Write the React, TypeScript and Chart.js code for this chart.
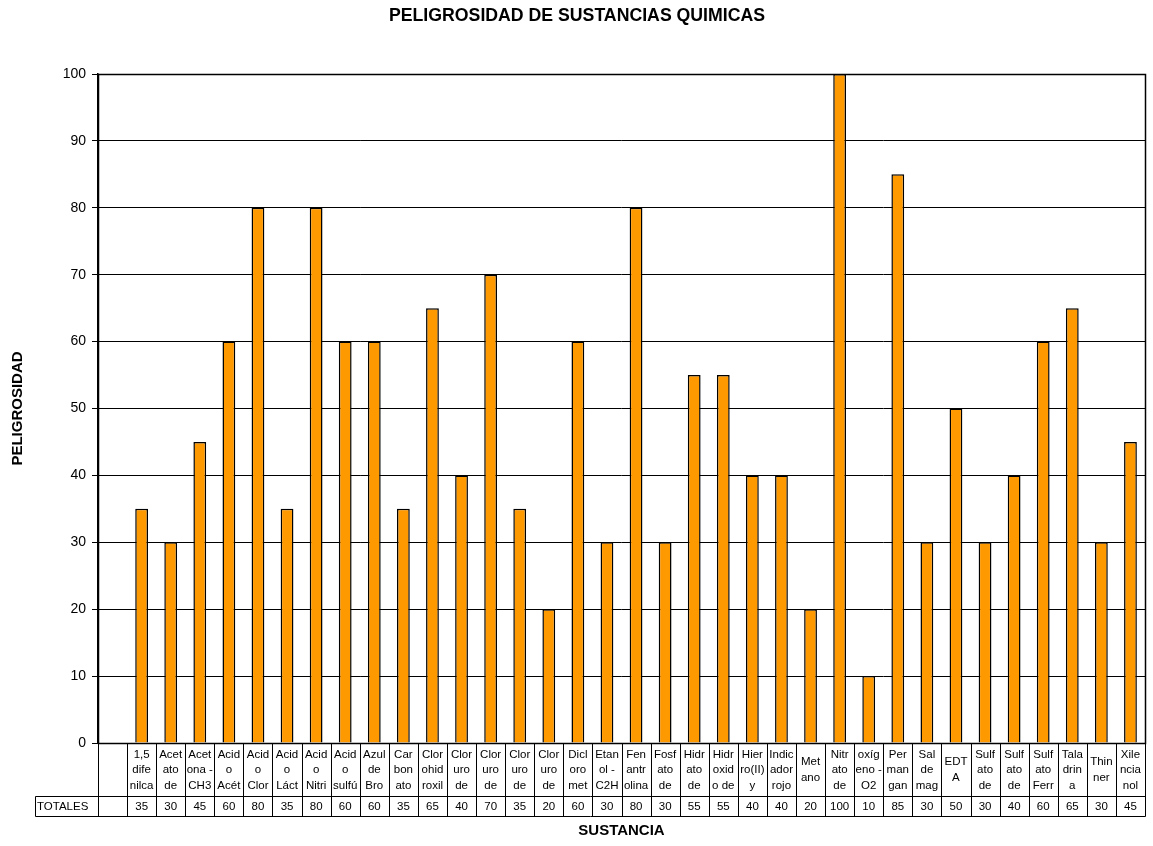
import React, { useEffect, useRef } from "react";
import { Chart, registerables } from "chart.js";

Chart.register(...registerables);

const TITLE = "PELIGROSIDAD DE SUSTANCIAS QUIMICAS";
const Y_TITLE = "PELIGROSIDAD";
const X_TITLE = "SUSTANCIA";
const ROW_HEADER = "TOTALES";

// category labels as shown (wrapped / truncated) in the data table
const categories: string[] = [
  "",
  "1,5\ndife\nnilca",
  "Acet\nato\nde",
  "Acet\nona -\nCH3",
  "Acid\no\nAcét",
  "Acid\no\nClor",
  "Acid\no\nLáct",
  "Acid\no\nNitri",
  "Acid\no\nsulfú",
  "Azul\nde\nBro",
  "Car\nbon\nato",
  "Clor\nohid\nroxil",
  "Clor\nuro\nde",
  "Clor\nuro\nde",
  "Clor\nuro\nde",
  "Clor\nuro\nde",
  "Dicl\noro\nmet",
  "Etan\nol -\nC2H",
  "Fen\nantr\nolina",
  "Fosf\nato\nde",
  "Hidr\nato\nde",
  "Hidr\noxid\no de",
  "Hier\nro(II)\ny",
  "Indic\nador\nrojo",
  "Met\nano",
  "Nitr\nato\nde",
  "oxíg\neno -\nO2",
  "Per\nman\ngan",
  "Sal\nde\nmag",
  "EDT\nA",
  "Sulf\nato\nde",
  "Sulf\nato\nde",
  "Sulf\nato\nFerr",
  "Tala\ndrin\na",
  "Thin\nner",
  "Xile\nncia\nnol",
];

const values: (number | null)[] = [
  null, 35, 30, 45, 60, 80, 35, 80, 60, 60, 35, 65, 40, 70, 35, 20, 60, 30, 80,
  30, 55, 55, 40, 40, 20, 100, 10, 85, 30, 50, 30, 40, 60, 65, 30, 45,
];

const Y_MIN = 0;
const Y_MAX = 100;
const Y_STEP = 10;

const FONT = "'Liberation Sans', Arial, sans-serif";

const crisp = (v: number) => Math.round(v) + 0.5;

const decorPlugin = {
  id: "decor",
  afterDraw(chart: any) {
    const { ctx, chartArea, scales } = chart;
    const x = scales.x;
    const n = categories.length;
    const step = x.getPixelForValue(1) - x.getPixelForValue(0);
    const left = chartArea.left;
    const right = chartArea.right;
    const top = chartArea.bottom;
    const mid = top + 53;
    const bottom = mid + 20;
    const headerLeft = 35;

    ctx.save();
    // plot frame
    ctx.strokeStyle = "#000";
    ctx.lineWidth = 1.5;
    ctx.strokeRect(crisp(left), crisp(chartArea.top), Math.round(right - left), Math.round(chartArea.bottom - chartArea.top));

    // data table grid
    ctx.lineWidth = 1;
    const line = (x1: number, y1: number, x2: number, y2: number) => {
      ctx.beginPath();
      ctx.moveTo(x1, y1);
      ctx.lineTo(x2, y2);
      ctx.stroke();
    };
    line(crisp(headerLeft), crisp(mid), crisp(right), crisp(mid));
    line(crisp(headerLeft), crisp(bottom), crisp(right), crisp(bottom));
    line(crisp(headerLeft), crisp(mid), crisp(headerLeft), crisp(bottom));
    for (let i = 0; i < n; i++) {
      const bx = x.getPixelForValue(i) - step / 2;
      line(crisp(bx), crisp(top), crisp(bx), crisp(bottom));
    }
    line(crisp(right), crisp(top), crisp(right), crisp(bottom));

    // table text
    ctx.fillStyle = "#000";
    ctx.font = `11.5px ${FONT}`;
    ctx.textAlign = "center";
    ctx.textBaseline = "middle";
    const lh = 15.5;
    const rowMid = (top + mid) / 2;
    for (let i = 0; i < n; i++) {
      const cx = x.getPixelForValue(i);
      const lines = categories[i] ? categories[i].split("\n") : [];
      lines.forEach((t, k) => {
        ctx.fillText(t, cx, rowMid + (k - (lines.length - 1) / 2) * lh + 0.5);
      });
      const v = values[i];
      if (v !== null && v !== undefined) {
        ctx.fillText(String(v), cx, (mid + bottom) / 2 + 0.5);
      }
    }
    ctx.textAlign = "left";
    ctx.fillText(ROW_HEADER, headerLeft + 2, (mid + bottom) / 2 + 0.5);

    // titles
    ctx.font = `bold 17.7px ${FONT}`;
    ctx.textAlign = "center";
    ctx.fillText(TITLE, 577, 16);

    ctx.font = `bold 15px ${FONT}`;
    ctx.fillText(X_TITLE, (left + right) / 2, 831);

    ctx.save();
    ctx.translate(18, (chartArea.top + chartArea.bottom) / 2);
    ctx.rotate(-Math.PI / 2);
    ctx.fillText(Y_TITLE, 0, 0);
    ctx.restore();

    ctx.restore();
  },
};

export default function App() {
  const ref = useRef<HTMLCanvasElement | null>(null);

  useEffect(() => {
    if (!ref.current) return;
    const chart = new Chart(ref.current, {
      type: "bar",
      data: {
        labels: categories,
        datasets: [
          {
            label: ROW_HEADER,
            data: values as any,
            backgroundColor: "#FF9900",
            borderColor: "#000000",
            borderWidth: 1.5,
            barPercentage: 0.44,
            categoryPercentage: 1,
          },
        ],
      },
      options: {
        animation: false,
        responsive: false,
        maintainAspectRatio: false,
        layout: { padding: { top: 74, left: 0, right: 8, bottom: 103 } },
        plugins: {
          legend: { display: false },
          title: { display: false },
          tooltip: { enabled: false },
        },
        scales: {
          x: {
            type: "category",
            display: false,
            offset: true,
          },
          y: {
            min: Y_MIN,
            max: Y_MAX,
            afterFit: (s: any) => {
              s.width = 98;
            },
            ticks: {
              stepSize: Y_STEP,
              color: "#000",
              font: { family: FONT, size: 14 },
              padding: 6,
            },
            grid: {
              color: "#000",
              lineWidth: 1,
              tickLength: 6,
              drawTicks: true,
            },
            border: { display: true, color: "#000", width: 1.5 },
          },
        },
      },
      plugins: [decorPlugin],
    });
    return () => chart.destroy();
  }, []);

  return (
    <div style={{ position: "absolute", left: 0, top: 0, width: 1153, height: 846, background: "#fff" }}>
      <canvas ref={ref} width={1153} height={846} style={{ display: "block" }} />
    </div>
  );
}
